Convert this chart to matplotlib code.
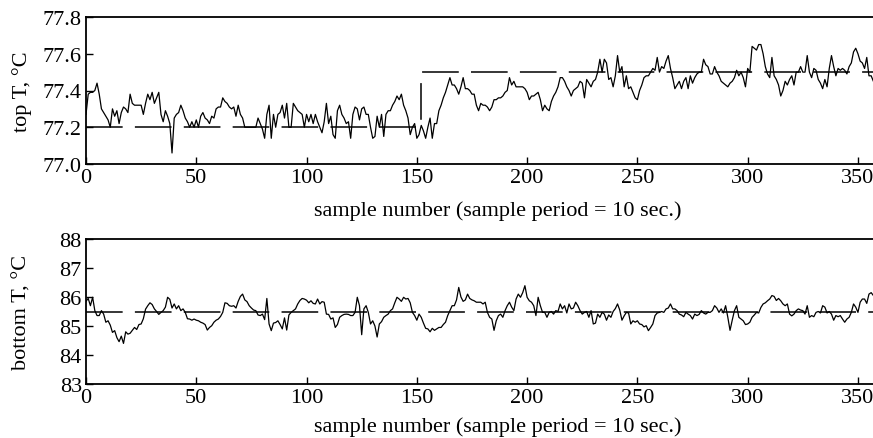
#!/usr/bin/env python3
# encoding: utf-8
import matplotlib
matplotlib.use("Agg")
import matplotlib.pyplot as plt
import numpy as np

# measured temperatures, one reading every 10 s
top_temp = [
    77.27, 77.38, 77.39, 77.39, 77.40, 77.44, 77.38, 77.30, 77.28, 77.26,
    77.24, 77.20, 77.30, 77.26, 77.29, 77.22, 77.28, 77.31, 77.30, 77.28,
    77.38, 77.33, 77.32, 77.32, 77.32, 77.32, 77.27, 77.33, 77.38, 77.35,
    77.39, 77.33, 77.36, 77.39, 77.27, 77.23, 77.29, 77.26, 77.22, 77.06,
    77.25, 77.27, 77.28, 77.32, 77.29, 77.25, 77.23, 77.20, 77.23, 77.20,
    77.24, 77.20, 77.26, 77.28, 77.25, 77.24, 77.22, 77.26, 77.25, 77.30,
    77.31, 77.31, 77.36, 77.34, 77.33, 77.31, 77.30, 77.31, 77.26, 77.32,
    77.27, 77.25, 77.20, 77.20, 77.20, 77.20, 77.20, 77.20, 77.25, 77.22,
    77.19, 77.14, 77.27, 77.32, 77.14, 77.27, 77.20, 77.27, 77.28, 77.32,
    77.25, 77.33, 77.20, 77.20, 77.33, 77.31, 77.29, 77.28, 77.27, 77.20,
    77.27, 77.23, 77.27, 77.22, 77.27, 77.23, 77.20, 77.17, 77.23, 77.33,
    77.22, 77.26, 77.16, 77.14, 77.29, 77.32, 77.27, 77.25, 77.22, 77.23,
    77.14, 77.27, 77.31, 77.30, 77.24, 77.30, 77.31, 77.27, 77.27, 77.20,
    77.14, 77.15, 77.26, 77.20, 77.27, 77.15, 77.27, 77.29, 77.29, 77.32,
    77.34, 77.37, 77.35, 77.38, 77.32, 77.29, 77.25, 77.16, 77.20, 77.22,
    77.14, 77.16, 77.21, 77.18, 77.14, 77.20, 77.25, 77.14, 77.22, 77.22,
    77.29, 77.32, 77.36, 77.39, 77.43, 77.47, 77.43, 77.43, 77.41, 77.38,
    77.42, 77.47, 77.41, 77.41, 77.40, 77.38, 77.38, 77.32, 77.29, 77.33,
    77.32, 77.32, 77.31, 77.29, 77.31, 77.35, 77.35, 77.36, 77.36, 77.37,
    77.39, 77.40, 77.47, 77.43, 77.45, 77.42, 77.42, 77.42, 77.42, 77.41,
    77.39, 77.35, 77.37, 77.37, 77.38, 77.39, 77.35, 77.29, 77.32, 77.30,
    77.29, 77.34, 77.37, 77.39, 77.42, 77.47, 77.47, 77.45, 77.42, 77.40,
    77.37, 77.40, 77.41, 77.42, 77.45, 77.44, 77.36, 77.46, 77.44, 77.42,
    77.45, 77.46, 77.50, 77.57, 77.50, 77.57, 77.55, 77.46, 77.47, 77.42,
    77.48, 77.59, 77.50, 77.53, 77.42, 77.48, 77.41, 77.42, 77.39, 77.36,
    77.35, 77.40, 77.43, 77.47, 77.48, 77.48, 77.50, 77.52, 77.51, 77.58,
    77.50, 77.53, 77.52, 77.56, 77.59, 77.52, 77.47, 77.41, 77.43, 77.45,
    77.41, 77.45, 77.47, 77.41, 77.48, 77.44, 77.47, 77.49, 77.50, 77.50,
    77.57, 77.54, 77.53, 77.49, 77.49, 77.53, 77.50, 77.48, 77.45, 77.44,
    77.43, 77.42, 77.44, 77.45, 77.47, 77.51, 77.48, 77.50, 77.47, 77.42,
    77.52, 77.50, 77.64, 77.63, 77.62, 77.65, 77.65, 77.60, 77.53, 77.49,
    77.47, 77.58, 77.48, 77.46, 77.43, 77.37, 77.40, 77.45, 77.43, 77.46,
    77.48, 77.43, 77.50, 77.50, 77.53, 77.50, 77.50, 77.59, 77.50, 77.47,
    77.52, 77.51, 77.46, 77.44, 77.41, 77.46, 77.42, 77.52, 77.59, 77.53,
    77.48, 77.52, 77.51, 77.52, 77.51, 77.49, 77.53, 77.55, 77.61, 77.63,
    77.60, 77.56, 77.55, 77.52, 77.58, 77.48, 77.48, 77.45, 77.44, 77.46,
    77.47,
]

bottom_temp = [
    85.85, 85.95, 85.70, 85.99, 85.53, 85.36, 85.36, 85.53, 85.41, 85.13,
    85.18, 85.03, 84.78, 84.84, 84.60, 84.46, 84.65, 84.40, 84.80, 84.72,
    84.75, 84.85, 84.95, 84.88, 85.05, 85.07, 85.25, 85.58, 85.70, 85.80,
    85.74, 85.59, 85.50, 85.40, 85.47, 85.53, 85.65, 85.99, 85.92, 85.62,
    85.76, 85.59, 85.70, 85.53, 85.59, 85.47, 85.25, 85.24, 85.20, 85.24,
    85.20, 85.18, 85.13, 85.10, 85.05, 84.86, 84.95, 85.01, 85.13, 85.20,
    85.24, 85.33, 85.47, 85.80, 85.78, 85.70, 85.68, 85.70, 85.62, 85.85,
    86.02, 86.10, 85.90, 85.84, 85.70, 85.62, 85.55, 85.53, 85.38, 85.36,
    85.41, 85.22, 85.95, 85.07, 84.84, 85.10, 85.12, 85.18, 85.05, 84.90,
    85.28, 84.86, 85.38, 85.47, 85.53, 85.59, 85.76, 85.88, 85.95, 85.93,
    85.89, 85.80, 85.87, 85.78, 85.76, 85.93, 85.76, 85.84, 85.82, 85.41,
    85.40, 85.24, 85.28, 84.95, 85.05, 85.30, 85.36, 85.40, 85.41, 85.40,
    85.36, 85.36, 85.47, 85.99, 85.70, 84.70, 85.59, 85.70, 85.47, 85.07,
    85.18, 85.00, 84.62, 85.07, 85.15, 85.30, 85.36, 85.41, 85.53, 85.59,
    85.80, 85.99, 85.93, 85.85, 85.99, 85.93, 85.95, 85.80, 85.47, 85.36,
    85.20, 85.41, 85.30, 85.10, 84.92, 84.90, 84.80, 84.92, 84.85, 84.90,
    84.95, 84.95, 85.05, 85.13, 85.36, 85.53, 85.70, 85.70, 85.90, 86.33,
    86.00, 85.85, 85.90, 86.10, 85.95, 85.90, 85.87, 85.82, 85.82, 85.82,
    85.76, 85.82, 85.47, 85.30, 85.24, 84.85, 85.18, 85.36, 85.41, 85.30,
    85.53, 85.70, 85.82, 85.65, 85.53, 85.93, 86.10, 85.99, 86.15, 86.39,
    85.99, 85.87, 85.82, 85.70, 85.36, 85.99, 85.70, 85.47, 85.47, 85.30,
    85.47, 85.50, 85.41, 85.53, 85.50, 85.76, 85.59, 85.70, 85.45, 85.76,
    85.59, 85.62, 85.82, 85.70, 85.53, 85.41, 85.47, 85.50, 85.30, 85.53,
    85.07, 85.10, 85.41, 85.30, 85.47, 85.41, 85.20, 85.38, 85.30, 85.50,
    85.60, 85.76, 85.55, 85.20, 85.35, 85.47, 85.45, 85.07, 85.18, 85.13,
    85.18, 85.07, 85.05, 84.97, 85.01, 84.84, 84.95, 85.07, 85.36, 85.45,
    85.47, 85.50, 85.47, 85.59, 85.62, 85.76, 85.59, 85.59, 85.53, 85.41,
    85.38, 85.32, 85.47, 85.41, 85.36, 85.24, 85.41, 85.36, 85.40, 85.53,
    85.45, 85.41, 85.47, 85.47, 85.53, 85.70, 85.62, 85.47, 85.59, 85.45,
    85.70, 85.30, 84.85, 85.20, 85.53, 85.70, 85.30, 85.24, 85.18, 85.05,
    85.07, 85.13, 85.30, 85.38, 85.47, 85.45, 85.64, 85.76, 85.80, 85.87,
    85.93, 86.05, 86.02, 85.88, 85.95, 85.87, 85.76, 85.70, 85.76, 85.41,
    85.35, 85.41, 85.53, 85.59, 85.55, 85.53, 85.41, 85.70, 85.30, 85.36,
    85.32, 85.47, 85.50, 85.45, 85.70, 85.65, 85.45, 85.50, 85.41, 85.20,
    85.36, 85.32, 85.36, 85.24, 85.13, 85.24, 85.30, 85.47, 85.76, 85.65,
    85.47, 85.82, 85.93, 85.93, 85.78, 86.10, 86.15, 86.05, 86.10, 86.15,
    86.20,
]

# setpoints (step from 77.2 to 77.5 at sample 152)
top_sp_x = [0, 152, 152, 360]
top_sp_y = [77.2, 77.2, 77.5, 77.5]
bottom_sp_x = [0, 360]
bottom_sp_y = [85.5, 85.5]

top_yticks = [77.0, 77.2, 77.4, 77.6, 77.8]
bottom_yticks = [83, 84, 85, 86, 87, 88]
xticks = [0, 50, 100, 150, 200, 250, 300, 350]

plt.rcParams['font.family'] = ['Liberation Serif', 'DejaVu Serif']
plt.rcParams['font.size'] = 16

W, H = 873, 439
fig = plt.figure(figsize=(W / 100, H / 100), dpi=100)
ax1 = fig.add_axes([86 / W, 1 - 165 / H, 794 / W, 147 / H])
ax2 = fig.add_axes([86 / W, 1 - 385 / H, 794 / W, 145 / H])

panels = [
    (ax1, top_temp, top_sp_x, top_sp_y, (77.0, 77.8), top_yticks, "top T, °C", "%.1f", -0.250),
    (ax2, bottom_temp, bottom_sp_x, bottom_sp_y, (83, 88), bottom_yticks, "bottom T, °C", "%d", -0.225),
]

for ax, temp, spx, spy, ylim, yt, ylab, fmt, xlab_y in panels:
    n = np.arange(len(temp))
    ax.plot(spx, spy, c="black", lw=1.1, dashes=(24, 8))
    ax.plot(n, temp, c="black", lw=0.9)
    ax.set_xlim(0, 360)
    ax.set_ylim(*ylim)
    ax.set_xticks(xticks)
    ax.set_yticks(yt)
    ax.set_yticklabels([fmt % v for v in yt])
    ax.tick_params(direction="in", length=5, width=1, pad=3)
    for s in ax.spines.values():
        s.set_linewidth(1.3)
    ax.set_ylabel(ylab)
    ax.yaxis.set_label_coords(-0.068, 0.5)
    ax.set_xlabel("sample number (sample period = 10 sec.)")
    ax.xaxis.set_label_coords(0.519, xlab_y)

fig.savefig("out.png", dpi=100)
